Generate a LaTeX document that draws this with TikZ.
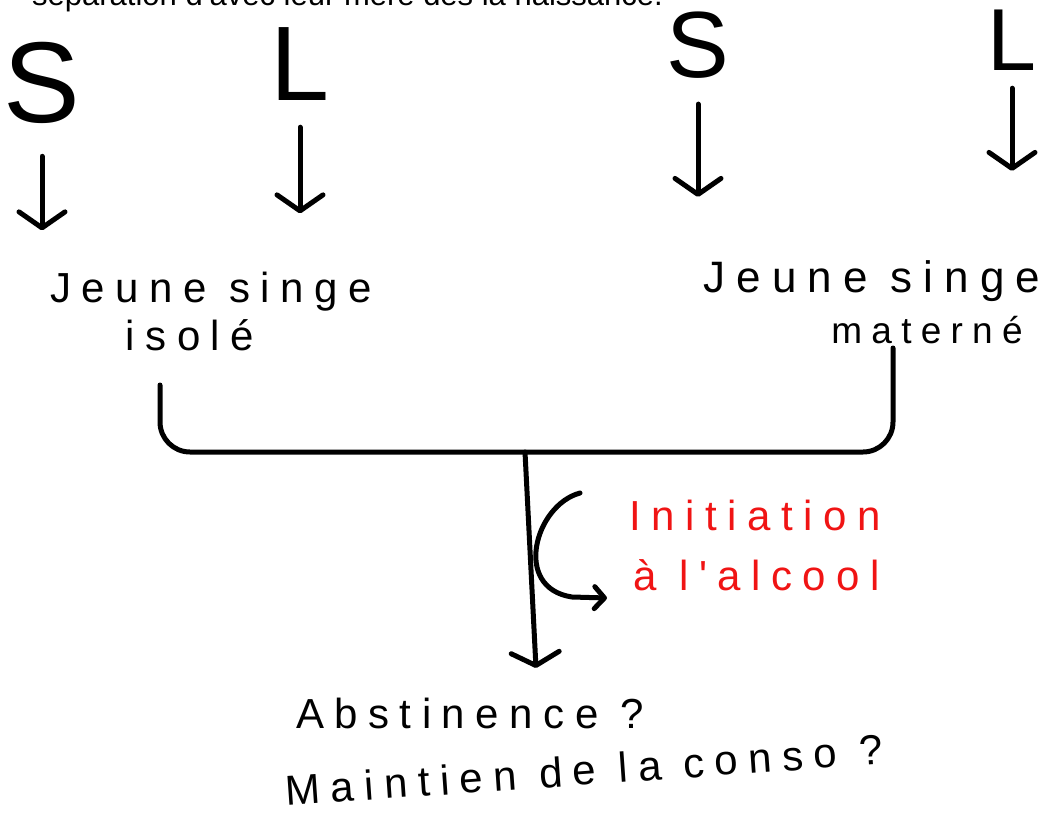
\documentclass[tikz,border=0pt]{standalone}
\usepackage{fontspec}
\setmainfont{Liberation Sans}
\newfontfamily\handfont[LetterSpace=25]{Liberation Sans}
\usetikzlibrary{
    positioning, % placement relatif des noeuds
    arrows.meta  % pointes de fleches ouvertes
}
\definecolor{inkred}{RGB}{240,20,20}

\begin{document}
\begin{tikzpicture}[x=1pt, y=-1pt]

    % --- Styles ---
    \tikzset{
        trait/.style={line width=5pt, line cap=round, line join=round},
        fleche/.style={trait, -{Straight Barb[length=16pt, width=46pt, round]}},
        petitefleche/.style={trait, -{Straight Barb[length=10pt, width=22pt, round]}},
        lettre/.style={inner sep=0pt, anchor=base, font=\handfont\fontsize{#1}{#1}\selectfont},
        ecrit/.style={inner sep=0pt, anchor=base, font=\handfont\fontsize{42}{46}\selectfont},
        rouge/.style={ecrit, text=inkred}
    }

    % --- Cadre ---
    \clip (0,0) rectangle (1053,814);
    \fill[white] (0,0) rectangle (1053,814);

    % --- Bandeau du haut (coupe) ---
    \node[anchor=base west, inner sep=0pt, font=\fontsize{31}{33}\selectfont]
        (bandeau) at (32,5) {séparation d'avec leur mère dès la naissance.};

    % --- Lettres S / L ---
    \node[lettre=115] (sG) at (42,122) {S};
    \node[lettre=106] (lG) at (300,100) {L};
    \node[lettre=94] (sD) at (698,77) {S};
    \node[lettre=88] (lD) at (1012,70) {L};

    % --- Les deux jeunes singes ---
    \node[ecrit] (jeuneG) at (211,302) {Jeune singe};
    \node[ecrit] (isole) at (190,350) {isolé};
    \node[ecrit, font=\handfont\fontsize{44}{46}\selectfont] (jeuneD) at (872,292) {Jeune singe};
    \node[ecrit, font=\handfont\fontsize{37}{40}\selectfont] (materne) at (927,343) {materné};

    % --- Fleches vers les singes ---
    \draw[fleche, shorten <=33pt, shorten >=41pt] (sG.south) -- (sG.south |- jeuneG.north);
    \draw[fleche, shorten <=27pt, shorten >=58pt] (lG.south) -- (lG.south |- jeuneG.north);
    \draw[fleche, shorten <=26pt, shorten >=63pt] (sD.south) -- (sD.south |- jeuneD.north);
    \draw[fleche, shorten <=18pt, shorten >=89pt] (lD.south) -- (lD.south |- jeuneD.north);

    % --- Accolade qui reunit les deux groupes ---
    \coordinate (jonction) at (525,452);
    \draw[trait, rounded corners=30pt]
        ([xshift=-30pt, yshift=-35pt]isole.base) |- (jonction)
        -| ([xshift=-34pt, yshift=-5pt]materne.base);

    % --- Issue ---
    \node[ecrit] (abst) at (470,728) {Abstinence ?};
    \node[ecrit, rotate=4] (maintien) at (585,785) {Maintien de la conso ?};
    \coordinate (pointe) at (536,668);
    \draw[fleche, -{Straight Barb[length=13pt, width=48pt, round]}] (jonction) -- (pointe);

    % --- Initiation (en rouge) ---
    \node[rouge] (initiation) at (755,530) {Initiation};
    \node[rouge] (alcool) at (757,590) {à l'alcool};
    \coordinate (boucleA) at (580,493);
    \coordinate (boucleB) at (607,598);
    \draw[petitefleche] (boucleA) .. controls (535,505) and (512,588) .. (572,597) -- (boucleB);

\end{tikzpicture}
\end{document}
